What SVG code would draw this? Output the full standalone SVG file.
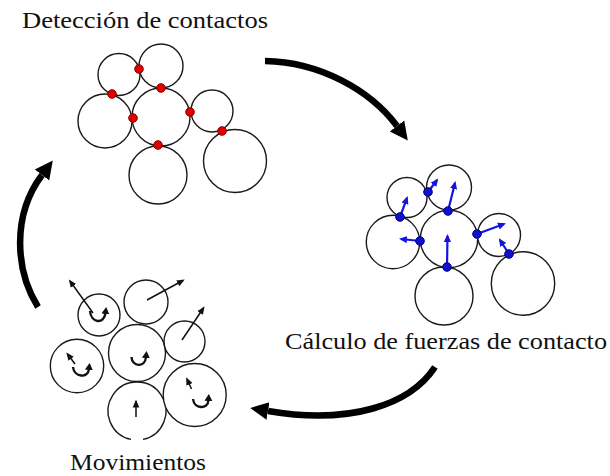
<svg xmlns="http://www.w3.org/2000/svg" width="610" height="476" viewBox="0 0 610 476">
<defs>
<style>
.p{fill:#fff;stroke:#1a1a1a;stroke-width:1.4}
.rd{fill:#e00000;stroke:#8a0000;stroke-width:1}
.bd{fill:#1010d0;stroke:#000080;stroke-width:1}
.bf{stroke:#1414e0;stroke-width:2.2;fill:none;marker-end:url(#hb)}
.mv{stroke:#111;stroke-width:1.5;fill:none;marker-end:url(#hk)}
.cu{stroke:#111;stroke-width:2.4;fill:none;marker-end:url(#hc)}
.big{stroke:#000;stroke-width:6.5;fill:none;marker-end:url(#hbig)}
.lbl{font-family:"Liberation Serif","Times New Roman",serif;font-size:24px;fill:#111}
</style>
<marker id="hbig" markerUnits="userSpaceOnUse" markerWidth="20" markerHeight="20" viewBox="0 -10 20 20" refX="0" refY="0" orient="auto"><path d="M0,-9 L18,0 L0,9 z" fill="#000"/></marker>
<marker id="hb" markerUnits="userSpaceOnUse" markerWidth="10" markerHeight="10" viewBox="0 -5 10 10" refX="6" refY="0" orient="auto"><path d="M0,-3.6 L8,0 L0,3.6 z" fill="#1414e0"/></marker>
<marker id="hk" markerUnits="userSpaceOnUse" markerWidth="10" markerHeight="10" viewBox="0 -5 10 10" refX="6" refY="0" orient="auto"><path d="M0,-3.3 L8,0 L0,3.3 z" fill="#111"/></marker>
<marker id="hc" markerUnits="userSpaceOnUse" markerWidth="10" markerHeight="10" viewBox="0 -5 10 10" refX="1" refY="0" orient="auto"><path d="M0,-4 L7,0 L0,4 z" fill="#111"/></marker>
</defs>

<g id="deteccion">
<text class="lbl" x="22" y="28" textLength="246" lengthAdjust="spacingAndGlyphs">Detección de contactos</text>
<circle class="p" cx="119" cy="74.5" r="21"/>
<circle class="p" cx="161" cy="66" r="22"/>
<circle class="p" cx="105" cy="121" r="27"/>
<circle class="p" cx="161" cy="117" r="29"/>
<circle class="p" cx="212" cy="111" r="21"/>
<circle class="p" cx="158" cy="175" r="29"/>
<circle class="p" cx="235" cy="161" r="31.5"/>
<circle class="rd" cx="139" cy="69" r="4.3"/>
<circle class="rd" cx="161" cy="88" r="4.3"/>
<circle class="rd" cx="112" cy="94" r="4.3"/>
<circle class="rd" cx="133" cy="118" r="4.3"/>
<circle class="rd" cx="190" cy="112" r="4.3"/>
<circle class="rd" cx="222" cy="131" r="4.3"/>
<circle class="rd" cx="158" cy="145" r="4.3"/>
</g>

<g id="calculo">
<text class="lbl" x="285" y="349" textLength="322" lengthAdjust="spacingAndGlyphs">Cálculo de fuerzas de contacto</text>
<circle class="p" cx="407" cy="197.5" r="20"/>
<circle class="p" cx="449" cy="187.5" r="22.5"/>
<circle class="p" cx="393" cy="242" r="26.7"/>
<circle class="p" cx="449" cy="239" r="28.7"/>
<circle class="p" cx="499" cy="235" r="21.5"/>
<circle class="p" cx="444" cy="296" r="29"/>
<circle class="p" cx="523" cy="283.5" r="31.7"/>
<path class="bf" d="M428,192 L437,180"/>
<path class="bf" d="M448,211 L455,183"/>
<path class="bf" d="M400,217 L407,198"/>
<path class="bf" d="M420,241 L401,239"/>
<path class="bf" d="M477,234 L504,224"/>
<path class="bf" d="M509,254 L500,240"/>
<path class="bf" d="M447,267 L447.5,236"/>
<circle class="bd" cx="428" cy="192" r="4.3"/>
<circle class="bd" cx="448" cy="211" r="4.3"/>
<circle class="bd" cx="400" cy="217" r="4.3"/>
<circle class="bd" cx="420" cy="241" r="4.3"/>
<circle class="bd" cx="477" cy="234" r="4.3"/>
<circle class="bd" cx="509" cy="254" r="4.3"/>
<circle class="bd" cx="447" cy="267" r="4.3"/>
</g>

<g id="movimientos">
<text class="lbl" x="70" y="470" textLength="136" lengthAdjust="spacingAndGlyphs">Movimientos</text>
<circle class="p" cx="99" cy="315" r="21"/>
<circle class="p" cx="146" cy="302" r="22"/>
<circle class="p" cx="77" cy="366" r="26.7"/>
<circle class="p" cx="137" cy="353" r="28.5"/>
<circle class="p" cx="184.5" cy="341.5" r="20.5"/>
<path class="p" fill="none" d="M131,439.4 A29,29 0 1 1 143,439.4"/>
<circle class="p" cx="194.7" cy="395" r="31.5"/>
<path class="mv" d="M93,313 L70,281"/>
<path class="mv" d="M147,300 L183,280.5"/>
<path class="mv" d="M182,340 L203.5,308"/>
<path class="mv" d="M75,364 L67.5,354"/>
<path class="mv" d="M191.5,389 L187,379"/>
<path class="mv" d="M136,417 L136,401.5"/>
<path class="cu" d="M90,311 C91,323 104,325 105.5,313"/>
<path class="cu" d="M73,367 C74,377 88,379 89,369"/>
<path class="cu" d="M131.5,357 C132,367 145,368 146,357"/>
<path class="cu" d="M193,399 C194,409 208,410 208.5,400"/>
</g>

<g id="connectors">
<path class="big" d="M265,61 C320,62 370,90 397,126"/>
<path class="big" d="M435,367 C410,405 350,425 268,411"/>
<path class="big" d="M38,307 C15,270 12,215 42,175"/>
</g>
</svg>
